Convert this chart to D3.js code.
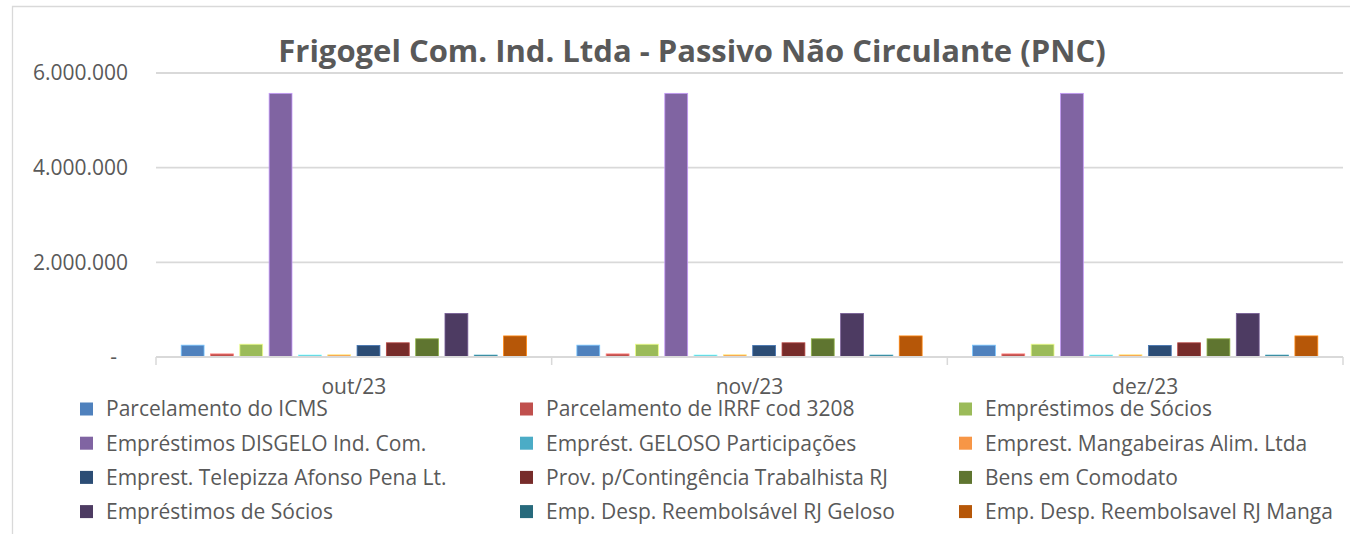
<!DOCTYPE html>
<html>
<head>
<meta charset="utf-8">
<script src="https://cdn.jsdelivr.net/npm/d3@7"></script>
<style>
  body { margin: 0; background: #fff; }
  svg text { font-family: "Open Sans", sans-serif; fill: #595959; }
</style>
</head>
<body>
<svg id="chart" width="1350" height="534"></svg>
<script>
// data
var months = ["out/23", "nov/23", "dez/23"];
var seriesNames = [
    "Parcelamento do ICMS",
    "Parcelamento de IRRF cod 3208",
    "Empréstimos de Sócios",
    "Empréstimos DISGELO Ind. Com.",
    "Emprést. GELOSO Participações",
    "Emprest. Mangabeiras Alim. Ltda",
    "Emprest. Telepizza Afonso Pena Lt.",
    "Prov. p/Contingência Trabalhista RJ",
    "Bens em Comodato",
    "Empréstimos de Sócios",
    "Emp. Desp. Reembolsável RJ Geloso",
    "Emp. Desp. Reembolsavel RJ Manga"
];
var seriesColors = ["#4F81BD", "#C0504D", "#9BBB59", "#8064A2", "#4BACC6", "#F79646",
                    "#2C4D75", "#772C2A", "#5F7530", "#4D3B62", "#276A7C", "#B65708"];
// one array per series: out/23, nov/23, dez/23
var parcelamentoIcms   = [250000, 250000, 250000];
var parcelamentoIrrf   = [65000, 65000, 65000];
var emprestSocios1     = [270000, 270000, 270000];
var emprestDisgelo     = [5570000, 5570000, 5570000];
var emprestGeloso      = [40000, 40000, 40000];
var emprestMangabeiras = [45000, 45000, 45000];
var emprestTelepizza   = [245000, 245000, 245000];
var provContingencia   = [300000, 300000, 300000];
var bensComodato       = [385000, 385000, 385000];
var emprestSocios2     = [920000, 920000, 920000];
var despGeloso         = [40000, 40000, 40000];
var despManga          = [445000, 445000, 445000];
var seriesValues = [parcelamentoIcms, parcelamentoIrrf, emprestSocios1, emprestDisgelo,
                    emprestGeloso, emprestMangabeiras, emprestTelepizza, provContingencia,
                    bensComodato, emprestSocios2, despGeloso, despManga];
var yTicks = [0, 2000000, 4000000, 6000000];

var svg = d3.select("#chart");

var margin = {top: 73, left: 156, right: 7, bottom: 177},
    width = 1350 - margin.left - margin.right,
    height = 534 - margin.top - margin.bottom;

// chart frame
svg.append("path")
    .attr("d", "M12.5,540V6.5H1360")
    .attr("fill", "none")
    .attr("stroke", "#d9d9d9")
    .attr("stroke-width", 1.3);

// title
svg.append("text")
    .attr("x", 692)
    .attr("y", 62)
    .attr("text-anchor", "middle")
    .attr("font-size", "31px")
    .attr("font-weight", "bold")
    .text("Frigogel Com. Ind. Ltda - Passivo Não Circulante (PNC)");

var g = svg.append("g")
    .attr("transform", "translate(" + margin.left + "," + margin.top + ")");

var x0 = d3.scaleBand().domain(months).range([0, width]);
var x1 = d3.scaleBand().domain(d3.range(seriesNames.length))
    .range([0, x0.bandwidth()]).paddingInner(0.22).paddingOuter(0.86);
var y = d3.scaleLinear().domain([0, 6000000]).range([height, 0]);

// gridlines
g.append("g").selectAll("line")
    .data(yTicks.slice(1))
    .enter().append("line")
    .attr("x1", 0).attr("x2", width)
    .attr("y1", function(d){ return y(d); })
    .attr("y2", function(d){ return y(d); })
    .attr("stroke", "#d9d9d9")
    .attr("stroke-width", 1.8);

// y axis labels
var fmt = function(d){
    if (d === 0) return "-";
    return d3.format(",")(d).replace(/,/g, ".");
};
var yAxis = g.append("g")
    .attr("transform", "translate(-28,0)")
    .call(d3.axisLeft(y).tickValues(yTicks).tickFormat(fmt).tickSize(0).tickPadding(0));
yAxis.select(".domain").remove();
yAxis.selectAll("text")
    .attr("font-size", "21px")
    .attr("font-family", "Open Sans")
    .attr("fill", "#595959")
    .attr("dx", function(d){ return d === 0 ? -11 : 0; });

// bars
var groups = g.selectAll(".month")
    .data(months)
    .enter().append("g")
    .attr("class", "month")
    .attr("transform", function(d){ return "translate(" + x0(d) + ",0)"; });

groups.selectAll("rect")
    .data(function(m, mi){
        return seriesValues.map(function(vals, si){ return {s: si, v: vals[mi]}; });
    })
    .enter().append("rect")
    .attr("x", function(d){ return x1(d.s); })
    .attr("width", x1.bandwidth())
    .attr("y", function(d){ return y(d.v); })
    .attr("height", function(d){ return height - y(d.v); })
    .attr("fill", function(d){ return seriesColors[d.s]; })
    .attr("stroke", function(d){ return d3.color(seriesColors[d.s]).brighter(1.2); })
    .attr("stroke-width", 0.8);

// x axis
var xAxis = g.append("g")
    .attr("transform", "translate(0," + height + ")");
xAxis.append("line")
    .attr("x1", 0).attr("x2", width)
    .attr("stroke", "#d9d9d9").attr("stroke-width", 1.8);
xAxis.selectAll(".sep")
    .data(d3.range(months.length + 1))
    .enter().append("line")
    .attr("x1", function(i){ return i * x0.step(); })
    .attr("x2", function(i){ return i * x0.step(); })
    .attr("y1", 0).attr("y2", 8)
    .attr("stroke", "#d9d9d9").attr("stroke-width", 1.5);
xAxis.selectAll(".lbl")
    .data(months)
    .enter().append("text")
    .attr("x", function(d){ return x0(d) + x0.bandwidth() / 2; })
    .attr("y", 37)
    .attr("text-anchor", "middle")
    .attr("font-size", "21px")
    .text(function(d){ return d; });

// legend, 3 columns, row-major
var legendCols = [80, 520, 959];
var legend = svg.append("g");
var item = legend.selectAll(".item")
    .data(seriesNames)
    .enter().append("g")
    .attr("transform", function(d, i){
        return "translate(" + legendCols[i % 3] + "," + (409 + Math.floor(i / 3) * 34.2) + ")";
    });
item.append("rect")
    .attr("x", 0).attr("y", -6.5)
    .attr("width", 13).attr("height", 13)
    .attr("fill", function(d, i){ return seriesColors[i]; });
item.append("text")
    .attr("x", 26)
    .attr("dy", "0.35em")
    .attr("font-size", "21px")
    .text(function(d){ return d; });
</script>
</body>
</html>
